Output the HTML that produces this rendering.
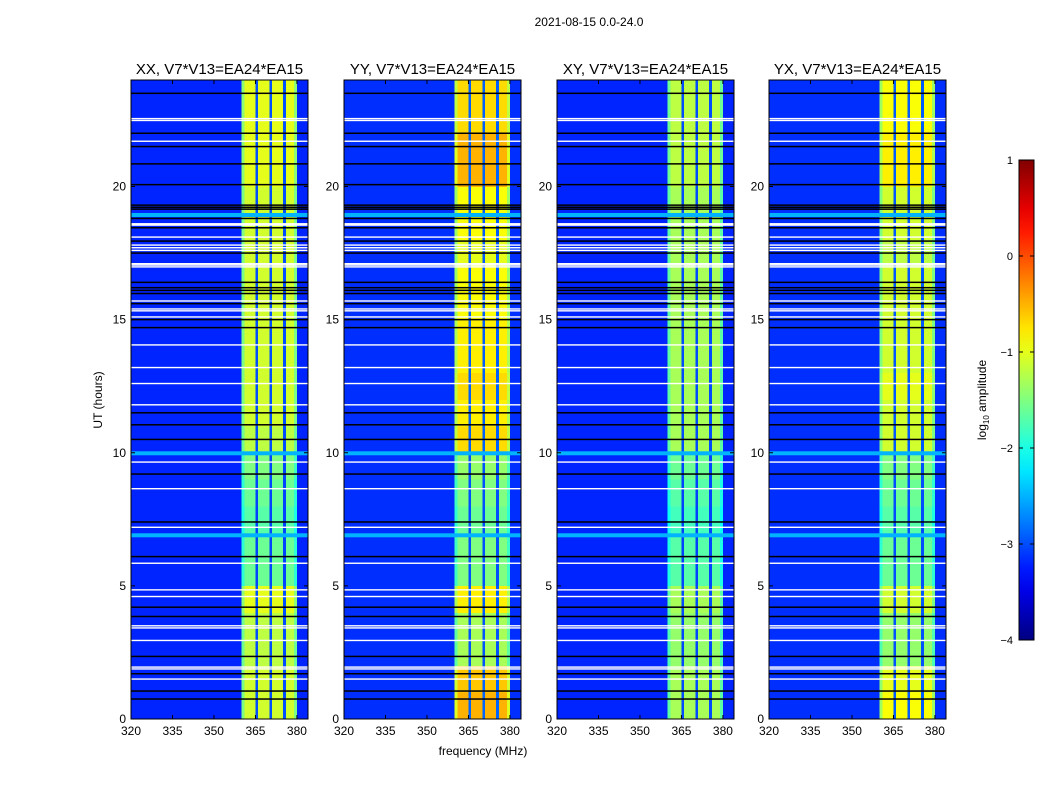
<!DOCTYPE html>
<html><head><meta charset="utf-8">
<style>
html,body{margin:0;padding:0;background:#fff;}
svg{display:block;font-family:"Liberation Sans","DejaVu Sans",sans-serif;}
</style></head>
<body>
<svg id="fig" width="1050" height="800" viewBox="0 0 1050 800">
<rect width="1050" height="800" fill="#fff"/>
<text x="589" y="26" font-size="12" text-anchor="middle">2021-08-15 0.0-24.0</text>
<text x="483" y="755" font-size="12" text-anchor="middle">frequency (MHz)</text>
<text x="0" y="0" font-size="12" text-anchor="middle" transform="translate(102,400) rotate(-90)">UT (hours)</text>
<g id="panels"></g>
<g id="cbar"></g>
</svg>
<script>
// ---- data ----
const panelTitles = ["XX, V7*V13=EA24*EA15","YY, V7*V13=EA24*EA15","XY, V7*V13=EA24*EA15","YX, V7*V13=EA24*EA15"];
const channelFreqs = Array.from({length:64},(_,i)=>320+i); // 1 MHz channels 320..383
const bandProfile = [0,0,0,0,0,0,0,0,0,0, 0,0,0,0,0,0,0,0,0,0, 0,0,0,0,0,0,0,0,0,0, 0,0,0,0,0,0,0,0,0,0,
  0.8,1,1,1,1,0.1,1,1,1,1, 0.1,1,1,1,1,0.1,1,1,1,0.8, 0,0,0,0];
const backgroundLevel = [-3.2,-3.15,-3.2,-3.15];
const timeLevelXX = [-1.1,-1.1,-1.2,-1.2,-1.0,-1.6,-1.6,-1.7,-1.6,-1.5,-1.2,-1.1,-1.1,-1.1,-1.1,-1.1,-1.1,-1.1,-1.1,-1.1,-1.0,-1.0,-1.0,-1.0];
const timeLevelYY = [-0.5,-0.6,-1.3,-1.3,-0.8,-1.5,-1.5,-1.6,-1.5,-1.4,-0.7,-0.8,-0.7,-0.8,-0.8,-0.9,-0.9,-1.0,-0.9,-0.9,-0.5,-0.5,-0.7,-0.7];
const timeLevelXY = [-1.3,-1.3,-1.4,-1.4,-1.3,-1.7,-1.7,-1.8,-1.7,-1.6,-1.3,-1.3,-1.3,-1.3,-1.3,-1.3,-1.3,-1.3,-1.3,-1.3,-1.2,-1.2,-1.2,-1.2];
const timeLevelYX = [-0.9,-1.0,-1.4,-1.4,-1.1,-1.6,-1.6,-1.7,-1.6,-1.5,-1.1,-1.1,-1.0,-1.1,-1.1,-1.1,-1.1,-1.2,-1.1,-1.1,-0.8,-0.8,-0.9,-0.9];
const whiteLines = [22.55,22.48,21.7,18.6,18.55,18.1,17.8,17.7,17.6,17.1,17.05,16.98,15.7,15.4,15.33,15.1,14.05,13.2,12.6,11.8,9.65,8.65,7.2,5.85,4.85,4.6,3.5,3.42,2.95,1.95,1.88,1.5];
const blackLines = [23.5,22.0,21.5,20.85,20.07,19.3,19.22,19.15,18.8,18.45,17.95,17.5,16.4,16.2,16.1,15.98,15.6,15.0,14.7,11.5,11.05,10.5,9.2,7.4,6.1,4.2,3.85,2.35,1.7,1.05,0.75];
const cyanLines = [18.93,9.98,6.9];
const xTicks = [320,335,350,365,380];
const yTicks = [0,5,10,15,20];
const cbarTicks = [1,0,-1,-2,-3,-4];
const timeLevels = [timeLevelXX,timeLevelYY,timeLevelXY,timeLevelYX];

// ---- helpers ----
const NS="http://www.w3.org/2000/svg";
function jet(v){let t=(v+4)/5;t=Math.max(0,Math.min(1,t));
 const c=x=>Math.round(255*Math.max(0,Math.min(1,x)));
 return `rgb(${c(1.5-Math.abs(4*t-3))},${c(1.5-Math.abs(4*t-2))},${c(1.5-Math.abs(4*t-1))})`;}
function mk(tag,attrs,parent){const e=document.createElementNS(NS,tag);for(const k in attrs)e.setAttribute(k,attrs[k]);parent.appendChild(e);return e;}
const panelX=[131,344,557,769], PW=177, PY0=80, PY1=719;
const fMin=320,fMax=384,hMax=24;
const panelsG=document.getElementById('panels');

panelX.forEach((x0,p)=>{
 const xS=f=>x0+(f-fMin)/(fMax-fMin)*PW;
 const yS=h=>PY1-h/hMax*(PY1-PY0);
 const g=mk('g',{},panelsG);
 
 
 const t=mk('text',{x:x0+PW/2,y:74,'font-size':15,'text-anchor':'middle'},g);
 t.textContent=panelTitles[p];
 
 
 const tl=timeLevels[p], bg=backgroundLevel[p];
 for(let h=0;h<24;h++){
  for(let c=0;c<channelFreqs.length;c++){
   const v=bg+(tl[h]-bg)*bandProfile[c];
   const r=mk('rect',{x:xS(channelFreqs[c]),y:yS(h+1),width:xS(channelFreqs[c]+1)-xS(channelFreqs[c])+0.3,height:yS(h)-yS(h+1)+0.3,fill:jet(v),'shape-rendering':'crispEdges'},g);
   
   
  }
 }
 cyanLines.forEach(h=>{const r=mk('rect',{x:x0,y:yS(h)-2,width:PW,height:4,fill:jet(-2.5)},g);
  
  });
 blackLines.forEach(h=>{const r=mk('rect',{x:x0,y:yS(h)-0.75,width:PW,height:1.5,fill:'#000'},g);
  
  });
 whiteLines.forEach(h=>{const r=mk('rect',{x:x0,y:yS(h)-0.7,width:PW,height:1.4,fill:'#fff'},g);
  
  });
 const fr=mk('rect',{x:x0,y:PY0,width:PW,height:PY1-PY0,fill:'none',stroke:'#000','stroke-width':1},g);
 
 
 xTicks.forEach(f=>{const x=xS(f);
  mk('line',{x1:x,x2:x,y1:PY1,y2:PY1-4,stroke:'#000'},g);
  mk('line',{x1:x,x2:x,y1:PY0,y2:PY0+4,stroke:'#000'},g);
  const tx=mk('text',{x:x,y:PY1+16,'font-size':12,'text-anchor':'middle'},g);
  tx.textContent=f;
  
  });
 yTicks.forEach(h=>{const y=yS(h);
  mk('line',{x1:x0,x2:x0+4,y1:y,y2:y,stroke:'#000'},g);
  mk('line',{x1:x0+PW,x2:x0+PW-4,y1:y,y2:y,stroke:'#000'},g);
  const tx=mk('text',{x:x0-5,y:y+4,'font-size':12,'text-anchor':'end'},g);
  tx.textContent=h;
  
  });
});

// colorbar
const cb=document.getElementById('cbar');


const defs=mk('defs',{},cb);
const lg=mk('linearGradient',{id:'jetg',x1:0,y1:1,x2:0,y2:0},defs);
for(let i=0;i<=20;i++){mk('stop',{offset:i/20,'stop-color':jet(-4+5*i/20)},lg);}
const CX=1019,CW=15,CY0=160,CY1=640;
mk('rect',{x:CX,y:CY0,width:CW,height:CY1-CY0,fill:'url(#jetg)',stroke:'#000','stroke-width':1},cb);
cbarTicks.forEach(v=>{const y=CY1-(v+4)/5*(CY1-CY0);
 mk('line',{x1:CX,x2:CX+4,y1:y,y2:y,stroke:'#000'},cb);
 mk('line',{x1:CX+CW,x2:CX+CW-4,y1:y,y2:y,stroke:'#000'},cb);
 const tx=mk('text',{x:CX-6,y:y+4,'font-size':11,'text-anchor':'end'},cb);
 tx.textContent=v<0?'\u2212'+(-v):String(v);
 
 });
const cl=mk('text',{x:0,y:0,'font-size':12,'text-anchor':'middle',transform:'translate(986,400) rotate(-90)'},cb);
cl.innerHTML='log<tspan font-size="8" dy="3">10</tspan><tspan dy="-3"> amplitude</tspan>';


</script>
</body></html>
